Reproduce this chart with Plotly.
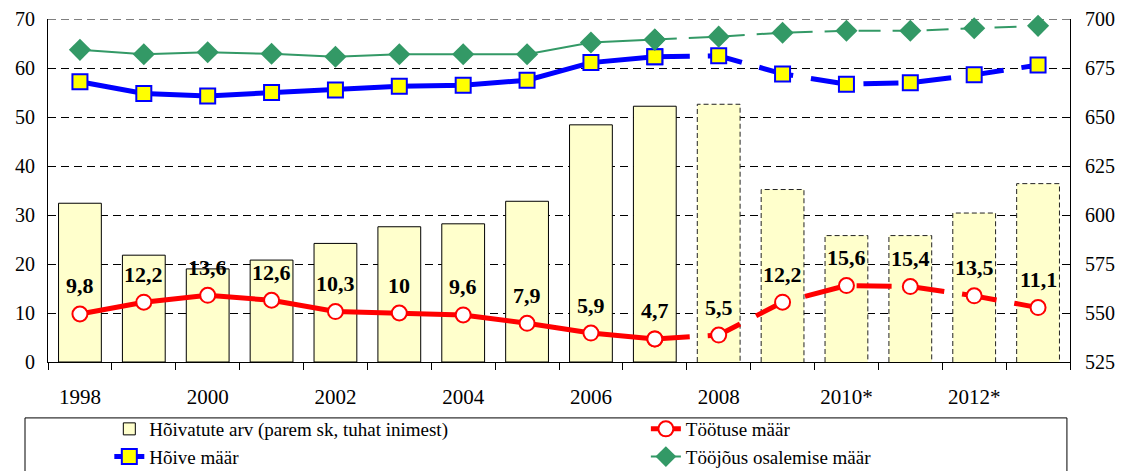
import plotly.graph_objects as go

# ---- data ----
years = list(range(1998, 2014))
tick_years = [1998, 2000, 2002, 2004, 2006, 2008, 2010, 2012]
tick_labels = ["1998", "2000", "2002", "2004", "2006", "2008", "2010*", "2012*"]

employed_thousands = [606, 579.5, 572.5, 577, 585.5, 594, 595.5, 607, 646, 655.5, 656.5,
                      613, 589.5, 589.5, 601, 616]
unemployment_rate = [9.8, 12.2, 13.6, 12.6, 10.3, 10, 9.6, 7.9, 5.9, 4.7, 5.5,
                     12.2, 15.6, 15.4, 13.5, 11.1]
employment_rate = [57.2, 54.8, 54.3, 55.0, 55.5, 56.3, 56.5, 57.5, 61.1, 62.3, 62.5,
                   58.8, 56.7, 57.0, 58.6, 60.6]
participation_rate = [63.7, 62.8, 63.2, 62.9, 62.3, 62.8, 62.8, 62.8, 65.2, 65.8, 66.4,
                      67.2, 67.6, 67.6, 68.1, 68.6]

first_forecast_year = 2008
names = {
    "bars": "Hõivatute arv (parem sk, tuhat inimest)",
    "unemp": "Töötuse määr",
    "emp": "Hõive määr",
    "part": "Tööjõus osalemise määr",
}

# ---- style ----
FONT = "Liberation Serif"
BAR_FILL = "#FFFFCC"
RED = "#FF0000"
BLUE = "#0000FF"
GREEN = "#339966"
BAR_W = 0.67
LINE_DASH = "35px,18px"
GRID_DASH = "8px,5px"
RIGHT_MIN, RIGHT_MAX = 525, 700

split = years.index(first_forecast_year)  # index of first forecast year
fc_start = split - 1  # dashed segment starts at last actual year

fig = go.Figure()

# bars (right axis = main y so that it is drawn underneath the lines)
fig.add_trace(go.Bar(
    x=years, y=[v - RIGHT_MIN for v in employed_thousands], base=RIGHT_MIN, yaxis="y",
    width=BAR_W, name=names["bars"], legend="legend",
    marker=dict(color=BAR_FILL,
                line=dict(color="black",
                          width=[1 if y < first_forecast_year else 0 for y in years])),
    hoverinfo="skip",
))

# dashed outlines of forecast bars
ox, oy = [], []
for y, v in zip(years, employed_thousands):
    if y >= first_forecast_year:
        ox += [y - BAR_W / 2, y - BAR_W / 2, y + BAR_W / 2, y + BAR_W / 2, None]
        oy += [RIGHT_MIN, v, v, RIGHT_MIN, None]
fig.add_trace(go.Scatter(x=ox, y=oy, yaxis="y", mode="lines", showlegend=False,
                         line=dict(color="#222222", width=1, dash="5px,3px"),
                         hoverinfo="skip", cliponaxis=False))


def add_series(vals, name, legend, color, width, marker, dash):
    # dashed forecast segment
    fig.add_trace(go.Scatter(
        x=years[fc_start:], y=vals[fc_start:], yaxis="y2", mode="lines+markers",
        showlegend=False, line=dict(color=color, width=width, dash=dash), marker=marker,
        cliponaxis=False))
    # solid actual segment (with legend entry)
    fig.add_trace(go.Scatter(
        x=years[:split], y=vals[:split], yaxis="y2", mode="lines+markers", name=name,
        legend=legend, line=dict(color=color, width=width), marker=marker,
        cliponaxis=False))


add_series(unemployment_rate, names["unemp"], "legend2", RED, 5,
           dict(symbol="circle", size=15, color="white", line=dict(color=RED, width=2)),
           LINE_DASH)
add_series(employment_rate, names["emp"], "legend", BLUE, 5,
           dict(symbol="square", size=15, color="#FFFF00", line=dict(color=BLUE, width=2)),
           LINE_DASH)
add_series(participation_rate, names["part"], "legend2", GREEN, 2,
           dict(symbol="diamond", size=17, color=GREEN, line=dict(width=0)),
           "22px,12px")

# value labels for unemployment rate
for y, v in zip(years, unemployment_rate):
    fig.add_annotation(x=y, y=v, xref="x", yref="y2", text=f"{v:g}".replace(".", ","),
                       showarrow=False, yshift=28,
                       font=dict(family=FONT, size=22, color="black", weight="bold"))

# top gridline (at the upper end of the axis range)
fig.add_shape(type="line", xref="paper", yref="y", x0=0, x1=1,
              y0=RIGHT_MAX, y1=RIGHT_MAX, layer="below",
              line=dict(color="black", width=1, dash=GRID_DASH))

# legend frame
fig.add_shape(type="rect", xref="paper", yref="paper",
              x0=-0.0225, x1=0.997, y0=-0.163, y1=-0.40,
              line=dict(color="black", width=1), fillcolor="rgba(0,0,0,0)")

boundaries = [y - 0.5 for y in years] + [years[-1] + 0.5]

legend_common = dict(orientation="v", yanchor="top", xanchor="left",
                     traceorder="normal", bgcolor="rgba(0,0,0,0)", tracegroupgap=0,
                     font=dict(family=FONT, size=19, color="black"))

fig.update_layout(
    width=1115, height=463,
    margin=dict(l=40, r=53, t=11, b=109, autoexpand=False),
    paper_bgcolor="white", plot_bgcolor="white",
    font=dict(family=FONT, size=20, color="black"),
    showlegend=True,
    legend=dict(x=0.06, y=-0.14, **legend_common),
    legend2=dict(x=0.585, y=-0.14, **legend_common),
    xaxis=dict(range=[1997.5, 2013.5], tickmode="array", tickvals=tick_years,
               ticktext=tick_labels, ticks="", showgrid=False, zeroline=False,
               showline=True, linecolor="black", linewidth=1,
               ticklabelstandoff=16, tickfont=dict(size=21),
               minor=dict(tickmode="array", tickvals=boundaries, ticks="outside",
                          ticklen=7, tickcolor="black", showgrid=False)),
    yaxis=dict(range=[RIGHT_MIN, RIGHT_MAX], dtick=25, side="right",
               showgrid=True, gridcolor="black", griddash=GRID_DASH, gridwidth=1,
               zeroline=False, showline=True, linecolor="black", linewidth=1,
               ticks="inside", ticklen=6, tickcolor="black", ticklabelstandoff=10),
    yaxis2=dict(range=[0, 70], dtick=10, overlaying="y", side="left",
                showgrid=False, zeroline=False, showline=True, linecolor="black",
                linewidth=1, ticks="inside", ticklen=6, tickcolor="black",
                ticklabelstandoff=8),
    bargap=0.33,
)

fig.write_html("out.html")
